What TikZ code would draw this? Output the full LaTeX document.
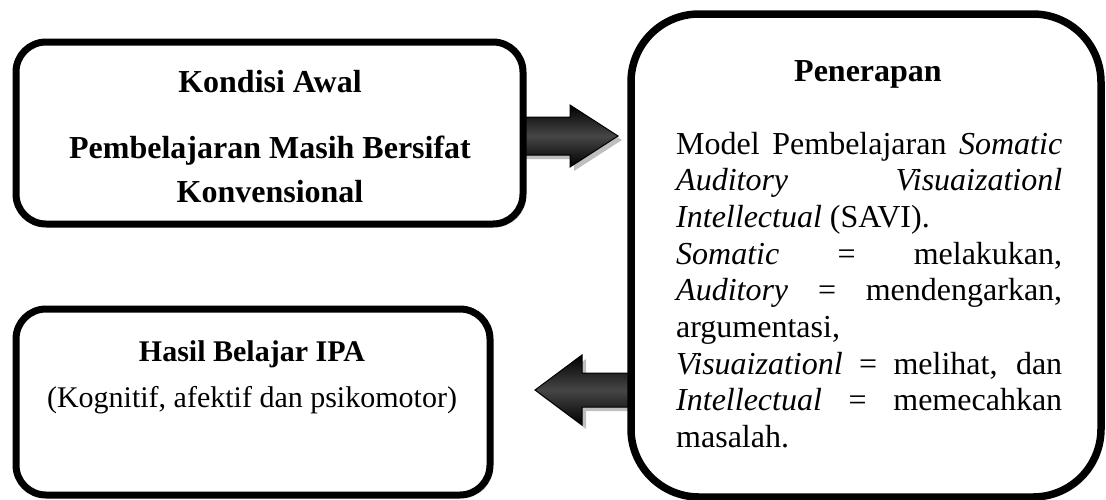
\documentclass[tikz,border=0pt]{standalone}
\usepackage{fontspec}
\setmainfont{Liberation Serif}
\usetikzlibrary{shadows}
\tikzset{
  box/.style={draw=black, line width=7pt, fill=white, rounded corners=#1,
    drop shadow={shadow xshift=3pt, shadow yshift=-3pt, opacity=0.35},
    inner sep=0pt},
  box/.default=30pt,
  txt/.style={inner sep=0pt, anchor=base, font=\fontsize{32}{36.8}\selectfont},
  btxt/.style={inner sep=0pt, anchor=base, font=\fontsize{32}{36.8}\selectfont\bfseries},
  blockarrow/.style={top color=black, bottom color=black, middle color=gray!55!black,
    draw=black, line width=1pt, line join=miter},
  arrowshadow/.style={fill=gray, opacity=0.5}
}
\begin{document}
\begin{tikzpicture}[x=1pt, y=-1pt]
\useasboundingbox (0,0) rectangle (1106,499);

% right block arrow (Kondisi -> Penerapan)
\fill[arrowshadow] (519,121) -- (574,121) -- (574,109) -- (622,140) -- (574,171) -- (574,159) -- (519,159) -- cycle;
\shade[blockarrow] (515,117) -- (570,117) -- (570,105) -- (618,136) -- (570,167) -- (570,155) -- (515,155) -- cycle;

% left block arrow (Penerapan -> Hasil)
\fill[arrowshadow] (631,377) -- (586,377) -- (586,359) -- (539,394) -- (586,429) -- (586,411) -- (631,411) -- cycle;
\shade[blockarrow] (635,373) -- (582,373) -- (582,355) -- (535,390) -- (582,425) -- (582,407) -- (635,407) -- cycle;

% boxes
\node[box, minimum width=507pt, minimum height=182pt] (kondisi) at (269.5,133) {};
\node[box, minimum width=474pt, minimum height=186pt] (hasil) at (253,402) {};
\node[box=68pt, line width=7.5pt, minimum width=470pt, minimum height=483pt] (penerapan) at (866,255.5) {};

% texts box 1
\node[btxt] (t1) at (270,92) {Kondisi Awal};
\node[btxt] (t2) at (270,158) {Pembelajaran Masih Bersifat};
\node[btxt] (t3) at (270,202) {Konvensional};

% texts box 3
\node[btxt, font=\fontsize{30}{34.5}\selectfont\bfseries] (h1) at (252,361) {Hasil Belajar IPA};
\node[txt, font=\fontsize{30}{34.5}\selectfont] (h2) at (252,407) {(Kognitif, afektif dan psikomotor)};

% texts box 2
\node[btxt] (p1) at (868,81) {Penerapan};
\node[inner sep=0pt, anchor=base west] (p2) at (676,154) {\parbox[t]{386pt}{\fontsize{32}{36.7}\selectfont
\hyphenpenalty=10000 \exhyphenpenalty=10000 \tolerance=10000 \emergencystretch=50pt
Model Pembelajaran \textit{Somatic}\linebreak
\textit{Auditory} \textit{Visuaizationl}\linebreak
\textit{Intellectual} (SAVI).\par
\textit{Somatic} = melakukan,\linebreak
\textit{Auditory} = mendengarkan,\linebreak
argumentasi,\par
\textit{Visuaizationl} = melihat, dan\linebreak
\textit{Intellectual} = memecahkan\linebreak
masalah.}};
\end{tikzpicture}
\end{document}
